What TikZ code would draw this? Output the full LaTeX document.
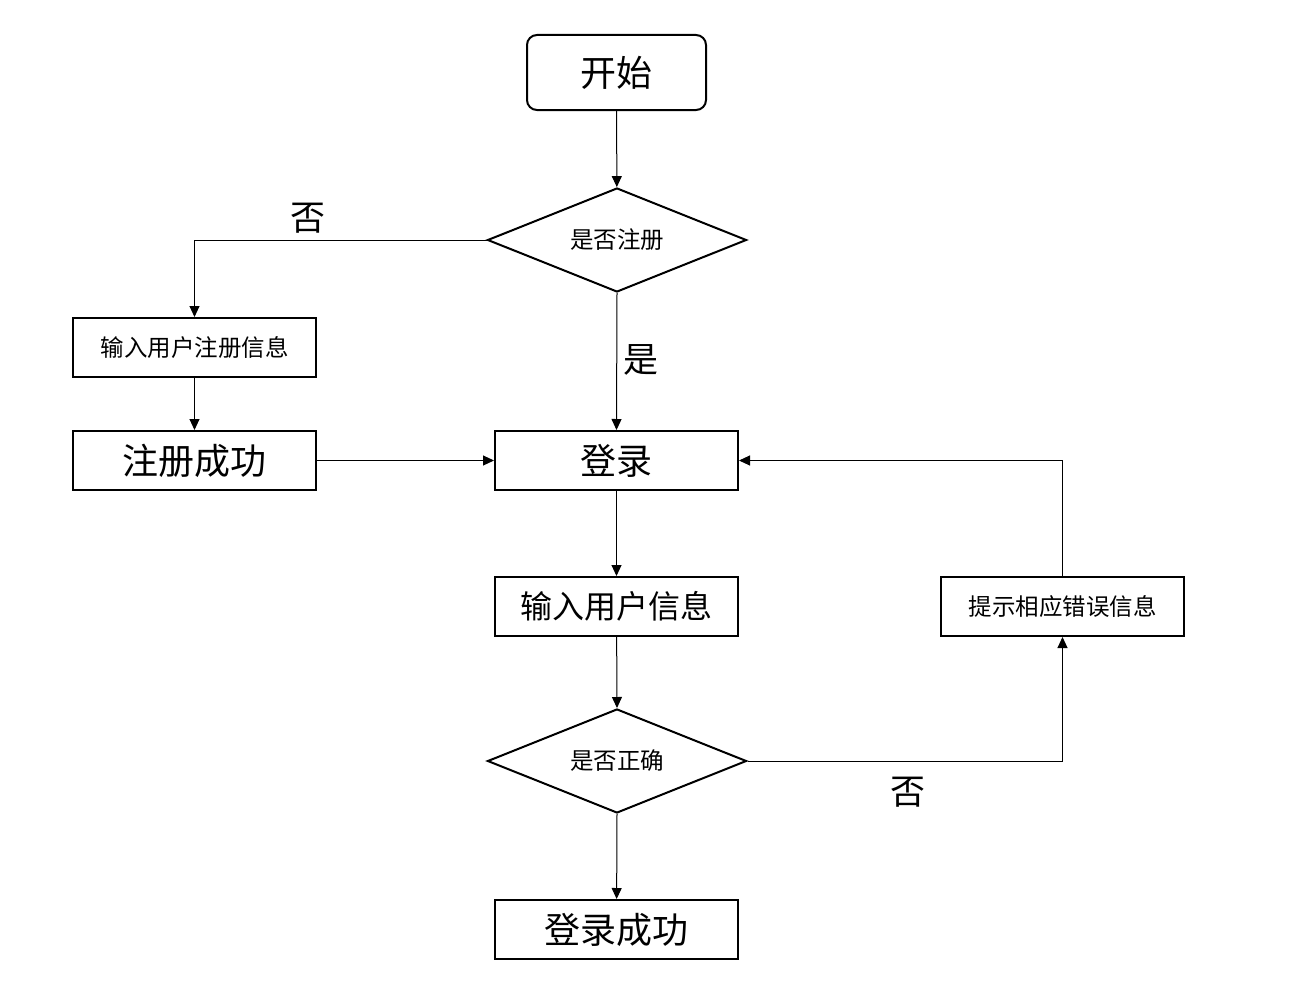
\documentclass[tikz,border=0pt]{standalone}
\usepackage{fontspec}
\setmainfont{Noto Sans CJK SC}
\usetikzlibrary{shapes.geometric,arrows.meta}
\begin{document}
\begin{tikzpicture}[x=1pt,y=-1pt,
  box/.style={draw,line width=2pt,minimum width=243pt,minimum height=59pt,inner sep=0pt,anchor=center},
  startbox/.style={box,rounded corners=10pt,minimum width=179pt,minimum height=75pt},
  dia/.style={draw,line width=2pt,diamond,aspect=2.5,minimum width=259pt,minimum height=104pt,inner sep=0pt},
  conn/.style={line width=1pt,-{Triangle[length=11pt,width=10pt]}},
  plain/.style={line width=1pt},
  big/.style={font=\fontsize{36}{40}\selectfont},
  mid/.style={font=\fontsize{32}{36}\selectfont},
  small/.style={font=\fontsize{23.5}{28}\selectfont},
  lbl/.style={font=\fontsize{35}{40}\selectfont,inner sep=0pt}]
\useasboundingbox (0,0) rectangle (1291,998);
\node[startbox,big] (start) at (616.5,72.5) {开始};
\node[dia,small] (d1) at (617,240) {是否注册};
\node[box,small] (reginfo) at (194.5,347.5) {输入用户注册信息};
\node[box,big] (regok) at (194.5,460.5) {注册成功};
\node[box,big] (login) at (616.5,460.5) {登录};
\node[box,mid] (input) at (616.5,606.5) {输入用户信息};
\node[box,small] (err) at (1062.5,606.5) {提示相应错误信息};
\node[dia,small] (d2) at (617,761) {是否正确};
\node[box,big] (ok) at (616.5,929.5) {登录成功};
\node[lbl] (no1) at (308,218) {否};
\node[lbl] (yes1) at (641,360) {是};
\node[lbl] (no2) at (908,792) {否};
\draw[conn] (start) -- (d1);
\draw[conn] (d1.west) -| (reginfo.north);
\draw[conn] (reginfo) -- (regok);
\draw[conn] (regok) -- (login);
\draw[conn] (d1.south) -- (login.north);
\draw[conn] (login) -- (input);
\draw[conn] (input) -- (d2.north);
\draw[conn] (d2.south) -- (ok);
\draw[conn] (d2.east) -| (err.south);
\draw[conn] (err.north) |- (login.east);
\end{tikzpicture}
\end{document}
